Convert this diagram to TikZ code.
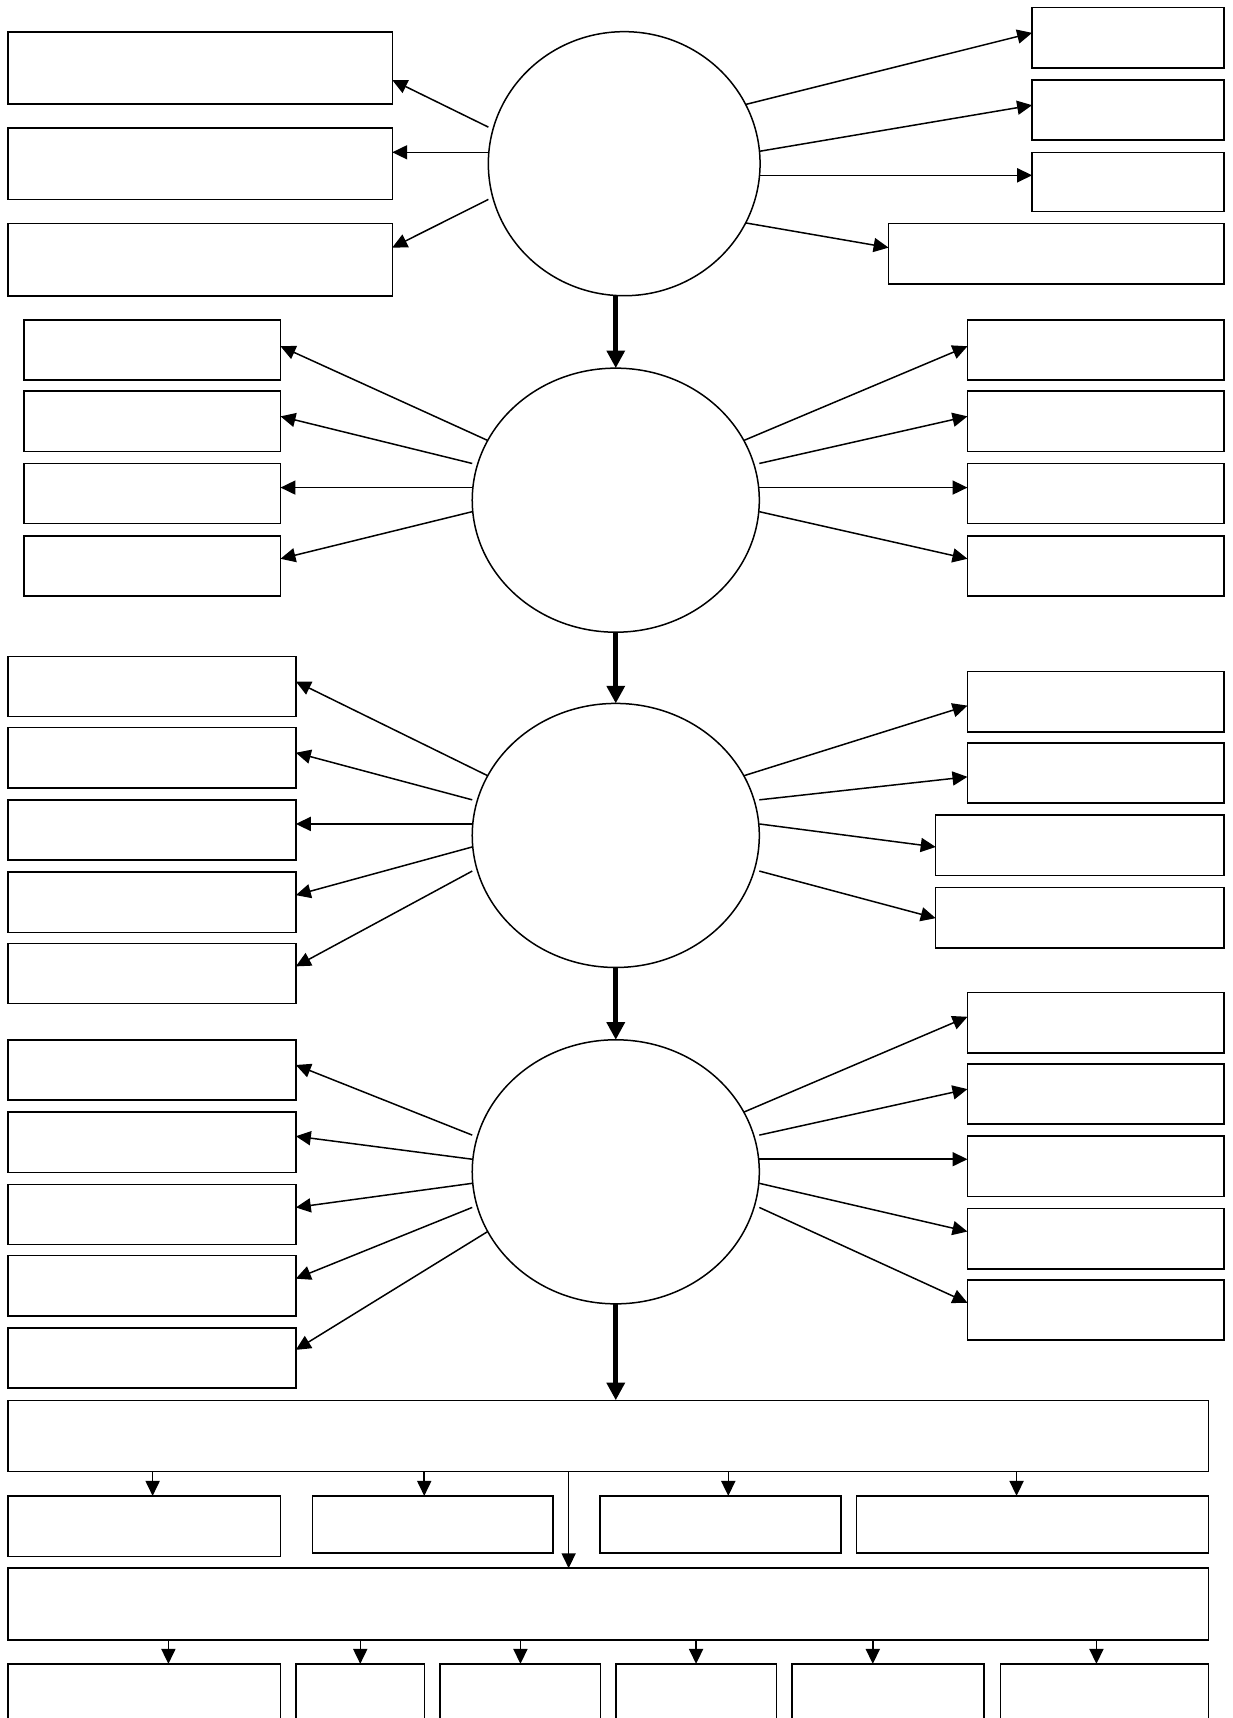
\documentclass[tikz,border=0pt]{standalone}
\usepackage{tikz}
\usetikzlibrary{positioning}
\usetikzlibrary{arrows.meta,shapes.geometric,fit}
\newcommand{\unitpx}{0.6217pt}

\begin{document}
\begin{tikzpicture}[x=\unitpx,y=-\unitpx,->,>={Triangle[length=8.5pt,width=8pt]},line width=0.85pt,
  box/.style={draw,rectangle,inner sep=0pt,outer sep=0pt},
  blob/.style={draw,ellipse,inner sep=0pt,outer sep=0pt,minimum width=262*\unitpx,minimum height=241*\unitpx},
  heavy/.style={line width=3pt,-{Triangle[length=10pt,width=10pt]}}]
  \path[use as bounding box] (0,0) rectangle (1125.3,1568);
  \clip (0,0) rectangle (1125.3,1568);
  % ellipses
  \node[blob,minimum width=248*\unitpx] (A) at (569.7,149.4) {};
  \node[blob] (B) at (562,456.5) {};
  \node[blob] (C) at (562,762.5) {};
  \node[blob] (D) at (562,1069.5) {};
  % first level
  \node[box,fit={(7.5,29) (358,95)}] (AL1) {};
  \node[box,fit={(7.5,117) (358,182)}] (AL2) {};
  \node[box,fit={(7.5,204) (358,270)}] (AL3) {};
  \node[box,fit={(942,7) (1117,62)}] (AR1) {};
  \node[box,fit={(942,73) (1117,128)}] (AR2) {};
  \node[box,fit={(942,139) (1117,193)}] (AR3) {};
  \node[box,fit={(811,204) (1117,259)}] (AR4) {};
  % second level
  \node[box,fit={(22,292) (256,347)}] (BL1) {};
  \node[box,fit={(22,357) (256,412)}] (BL2) {};
  \node[box,fit={(22,423) (256,478)}] (BL3) {};
  \node[box,fit={(22,489) (256,544)}] (BL4) {};
  \node[box,fit={(883,292) (1117,347)}] (BR1) {};
  \node[box,fit={(883,357) (1117,412)}] (BR2) {};
  \node[box,fit={(883,423) (1117,478)}] (BR3) {};
  \node[box,fit={(883,489) (1117,544)}] (BR4) {};
  % third level
  \node[box,fit={(7.5,599) (270,654)}] (CL1) {};
  \node[box,fit={(7.5,664) (270,719)}] (CL2) {};
  \node[box,fit={(7.5,730) (270,785)}] (CL3) {};
  \node[box,fit={(7.5,796) (270,851)}] (CL4) {};
  \node[box,fit={(7.5,861) (270,916)}] (CL5) {};
  \node[box,fit={(883,613) (1117,668)}] (CR1) {};
  \node[box,fit={(883,678) (1117,733)}] (CR2) {};
  \node[box,fit={(854,744) (1117,799)}] (CR3) {};
  \node[box,fit={(854,810) (1117,865)}] (CR4) {};
  % fourth level
  \node[box,fit={(7.5,949) (270,1004)}] (DL1) {};
  \node[box,fit={(7.5,1015) (270,1070)}] (DL2) {};
  \node[box,fit={(7.5,1081) (270,1136)}] (DL3) {};
  \node[box,fit={(7.5,1146) (270,1201)}] (DL4) {};
  \node[box,fit={(7.5,1212) (270,1267)}] (DL5) {};
  \node[box,fit={(883,906) (1117,961)}] (DR1) {};
  \node[box,fit={(883,971) (1117,1026)}] (DR2) {};
  \node[box,fit={(883,1037) (1117,1092)}] (DR3) {};
  \node[box,fit={(883,1103) (1117,1158)}] (DR4) {};
  \node[box,fit={(883,1168) (1117,1223)}] (DR5) {};
  % bottom part
  \node[box,fit={(7.5,1278) (1103,1343)}] (E) {};
  \node[box,fit={(7.5,1365.3) (256.2,1420.7)}] (F1) {};
  \node[box,fit={(285.1,1365.3) (504.5,1417.4)}] (F2) {};
  \node[box,fit={(547.6,1365.3) (767.5,1417.4)}] (F3) {};
  \node[box,fit={(781.5,1365.3) (1103,1417.4)}] (F4) {};
  \node[box,fit={(7.5,1431.3) (1103,1496.7)}] (G) {};
  \node[box,fit={(7.5,1518.6) (256.2,1600)}] (H1) {};
  \node[box,fit={(270.3,1518.6) (387.6,1600)}] (H2) {};
  \node[box,fit={(401.7,1518.6) (548.2,1600)}] (H3) {};
  \node[box,fit={(562.3,1518.6) (708.6,1600)}] (H4) {};
  \node[box,fit={(723,1518.6) (898.3,1600)}] (H5) {};
  \node[box,fit={(913,1518.6) (1103,1600)}] (H6) {};

  \path (A.west |- 0,116) edge (AL1.east |- 0,73)
    (A.west |- 0,139) edge (AL2.east |- 0,139)
    (A.west |- 0,182) edge (AL3.east |- 0,226)
    (A.26) edge (AR1.west |- 0,30)
    (A.east |- 0,138) edge (AR2.west |- 0,96)
    (A.east |- 0,160) edge (AR3.west |- 0,160)
    (A.-26) edge (AR4.west |- 0,226);
  \path (B.155) edge (BL1.east |- 0,316)
    (B.west |- 0,423) edge (BL2.east |- 0,380)
    (B.west |- 0,445) edge (BL3.east |- 0,445)
    (B.west |- 0,467) edge (BL4.east |- 0,510)
    (B.25) edge (BR1.west |- 0,316)
    (B.east |- 0,423) edge (BR2.west |- 0,380)
    (B.east |- 0,445) edge (BR3.west |- 0,445)
    (B.east |- 0,467) edge (BR4.west |- 0,510);
  \path (C.155) edge (CL1.east |- 0,622)
    (C.west |- 0,730) edge (CL2.east |- 0,687)
    (C.west |- 0,752) edge (CL3.east |- 0,752)
    (C.west |- 0,773) edge (CL4.east |- 0,817)
    (C.west |- 0,795) edge (CL5.east |- 0,882)
    (C.25) edge (CR1.west |- 0,644)
    (C.east |- 0,730) edge (CR2.west |- 0,709)
    (C.east |- 0,752) edge (CR3.west |- 0,773)
    (C.east |- 0,795) edge (CR4.west |- 0,838);
  \path (D.west |- 0,1036) edge (DL1.east |- 0,972)
    (D.west |- 0,1058) edge (DL2.east |- 0,1037)
    (D.west |- 0,1080) edge (DL3.east |- 0,1102)
    (D.west |- 0,1102) edge (DL4.east |- 0,1167)
    (D.205) edge (DL5.east |- 0,1232)
    (D.25) edge (DR1.west |- 0,928)
    (D.east |- 0,1036) edge (DR2.west |- 0,994)
    (D.east |- 0,1058) edge (DR3.west |- 0,1058)
    (D.east |- 0,1080) edge (DR4.west |- 0,1124)
    (D.east |- 0,1102) edge (DR5.west |- 0,1189);
  % main line
  \draw[heavy] (B.north |- A.south) -- (B.north);
  \draw[heavy] (B.south) -- (C.north);
  \draw[heavy] (C.south) -- (D.north);
  \draw[heavy] (D.south) -- (D.south |- E.north);
  \path (139.3,0 |- E.south) edge (139.3,0 |- F1.north)
    (387.2,0 |- E.south) edge (387.2,0 |- F2.north)
    (664.7,0 |- E.south) edge (664.7,0 |- F3.north)
    (927.8,0 |- E.south) edge (927.8,0 |- F4.north)
    (519,0 |- E.south) edge (519,0 |- G.north);
  \path (153.7,0 |- G.south) edge (153.7,0 |- H1.north)
    (328.8,0 |- G.south) edge (328.8,0 |- H2.north)
    (475,0 |- G.south) edge (475,0 |- H3.north)
    (635.3,0 |- G.south) edge (635.3,0 |- H4.north)
    (796.6,0 |- G.south) edge (796.6,0 |- H5.north)
    (1000.7,0 |- G.south) edge (1000.7,0 |- H6.north);
\end{tikzpicture}
\end{document}
